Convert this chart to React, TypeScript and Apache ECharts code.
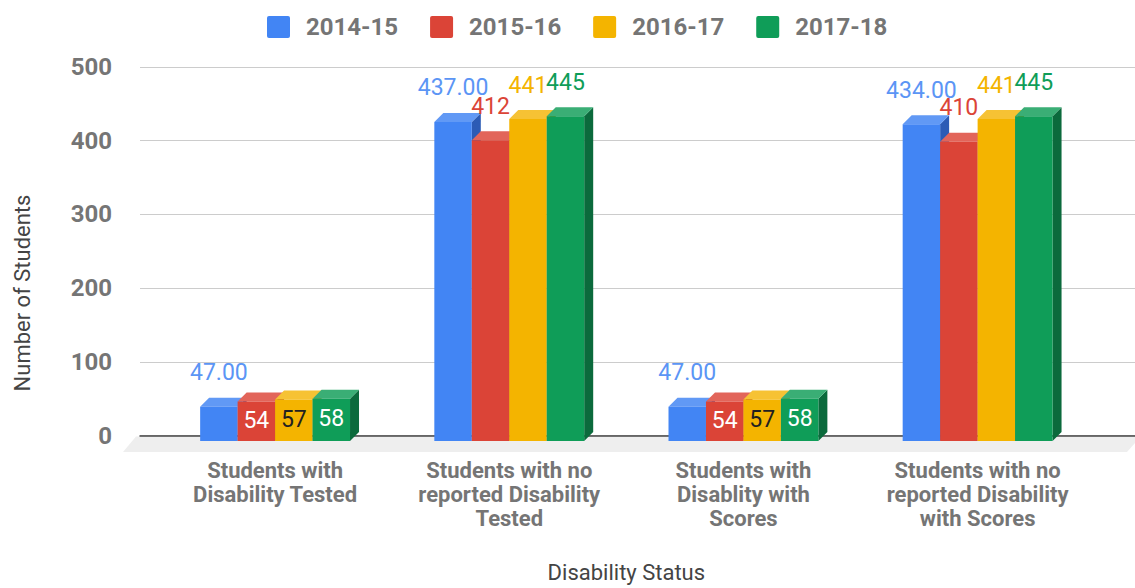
import React, { useEffect, useRef } from "react";
import * as echarts from "echarts";

const categories = [
  "Students with\nDisability Tested",
  "Students with no\nreported Disability\nTested",
  "Students with\nDisablity with\nScores",
  "Students with no\nreported Disability\nwith Scores",
];
const seriesNames = ["2014-15", "2015-16", "2016-17", "2017-18"];
const values2014 = [47, 437, 47, 434];
const values2015 = [54, 412, 54, 410];
const values2016 = [57, 441, 57, 441];
const values2017 = [58, 445, 58, 445];
const allValues = [values2014, values2015, values2016, values2017];
const yTicks = { min: 0, max: 500, interval: 100 };

const frontColors = ["#4285F4", "#DB4437", "#F4B400", "#0F9D58"];
const topColors = ["#6199f5", "#e2655a", "#f6c234", "#3aae75"];
const sideColors = ["#2c5bb5", "#a3342a", "#b98900", "#0b6a3c"];
const labelColors = ["#5b95f5", "#DB4437", "#F4B400", "#0F9D58"];
const insideLabelColors = ["#ffffff", "#ffffff", "#212121", "#ffffff"];
const decimals = [2, 0, 0, 0];

const DEPTH = 9;

export default function App() {
  const ref = useRef<HTMLDivElement>(null);
  useEffect(() => {
    if (!ref.current) return;
    const chart = echarts.init(ref.current, undefined, { renderer: "svg" });

    const series: any[] = allValues.map((vals, s) => ({
      type: "custom",
      name: seriesNames[s],
      xAxisIndex: 1,
      yAxisIndex: 1,
      itemStyle: { color: frontColors[s] },
      data: vals.map((v, i) => [i, v]),
      encode: { x: 0, y: 1 },
      renderItem: (params: any, api: any) => {
        const ci = api.value(0);
        const v = api.value(1);
        const p0 = api.coord([ci, 0]);
        const pv = api.coord([ci, v]);
        const cx = p0[0];
        const y0 = p0[1];
        const yv = pv[1];
        const band = api.size([1, 0])[0];
        const bw = band * 0.16;
        const si = params.seriesIndex;
        const x = cx - 2 * bw + si * bw;
        const D = DEPTH;
        const inside = si > 0 && v < 100;
        const txt = Number(v).toFixed(decimals[si]);
        const children: any[] = [
          {
            type: "polygon",
            shape: {
              points: [
                [x + bw, yv + D],
                [x + bw + D, yv],
                [x + bw + D, y0],
                [x + bw, y0 + D],
              ],
            },
            style: { fill: sideColors[si] },
          },
          {
            type: "polygon",
            shape: {
              points: [
                [x, yv + D],
                [x + bw, yv + D],
                [x + bw + D, yv],
                [x + D, yv],
              ],
            },
            style: { fill: topColors[si] },
          },
          {
            type: "rect",
            shape: { x: x, y: yv + D, width: bw, height: y0 - yv },
            style: { fill: frontColors[si] },
          },
          {
            type: "text",
            z2: 10,
            style: inside
              ? {
                  x: x + bw / 2,
                  y: (yv + y0) / 2 + D - 1,
                  text: txt,
                  fill: insideLabelColors[si],
                  font: "23px Roboto",
                  align: "center",
                  verticalAlign: "middle",
                }
              : {
                  x: x + bw / 2,
                  y: yv - 25,
                  text: txt,
                  fill: labelColors[si],
                  font: "23px Roboto",
                  align: "center",
                  verticalAlign: "middle",
                },
          },
        ];
        return { type: "group", children };
      },
    }));

    chart.setOption({
      animation: false,
      textStyle: { fontFamily: "Roboto" },
      legend: {
        data: seriesNames,
        left: 262,
        top: 10,
        itemWidth: 23,
        itemHeight: 22,
        itemGap: 32,
        icon: "path://M2,0 H21 A2,2 0 0 1 23,2 V20 A2,2 0 0 1 21,22 H2 A2,2 0 0 1 0,20 V2 A2,2 0 0 1 2,0 Z",
        textStyle: {
          fontFamily: "Roboto",
          fontSize: 24,
          fontWeight: "bold",
          color: "#757575",
          padding: [0, 0, 0, 11],
        },
      },
      grid: [
        { left: 140, right: 0, top: 67, bottom: 152.5 },
        { left: 158, right: 40.3, top: 67, bottom: 152.5 },
      ],
      xAxis: [
        {
          type: "value",
          gridIndex: 0,
          min: 0,
          max: 1,
          axisLine: { show: true, lineStyle: { color: "#444444", width: 1.5 } },
          axisTick: { show: false },
          axisLabel: { show: false },
          splitLine: { show: false },
        },
        {
          type: "category",
          gridIndex: 1,
          data: categories,
          axisLine: { show: false },
          axisTick: { show: false },
          axisLabel: {
            interval: 0,
            margin: 26,
            fontFamily: "Roboto",
            fontSize: 22,
            fontWeight: "bold",
            color: "#757575",
            lineHeight: 24,
            align: "center",
          },
          name: "Disability Status",
          nameLocation: "middle",
          nameGap: 129,
          nameTextStyle: { fontFamily: "Roboto", fontSize: 22, color: "#444444" },
        },
      ],
      yAxis: [
        {
          type: "value",
          gridIndex: 0,
          min: yTicks.min,
          max: yTicks.max,
          interval: yTicks.interval,
          axisLine: { show: false },
          axisTick: { show: false },
          axisLabel: {
            margin: 28,
            fontFamily: "Roboto",
            fontSize: 24,
            fontWeight: "bold",
            color: "#757575",
          },
          splitLine: { lineStyle: { color: "#cccccc", width: 1 } },
        },
        {
          type: "value",
          gridIndex: 1,
          min: yTicks.min,
          max: yTicks.max,
          interval: yTicks.interval,
          show: false,
          splitLine: { show: false },
        },
      ],
      graphic: [
        {
          type: "polygon",
          z: -1,
          shape: {
            points: [
              [136, 436.5],
              [1135, 436.5],
              [1135, 443],
              [1127, 452],
              [123, 452],
            ],
          },
          style: { fill: "#eeeeee" },
        },
        {
          type: "text",
          x: 22,
          y: 293,
          rotation: Math.PI / 2,
          style: {
            text: "Number of Students",
            font: "22px Roboto",
            fill: "#444444",
            align: "center",
            verticalAlign: "middle",
          },
        },
      ],
      series,
    });
    return () => chart.dispose();
  }, []);
  return (
    <div
      ref={ref}
      style={{ position: "absolute", left: 0, top: 0, width: 1135, height: 588 }}
    />
  );
}
